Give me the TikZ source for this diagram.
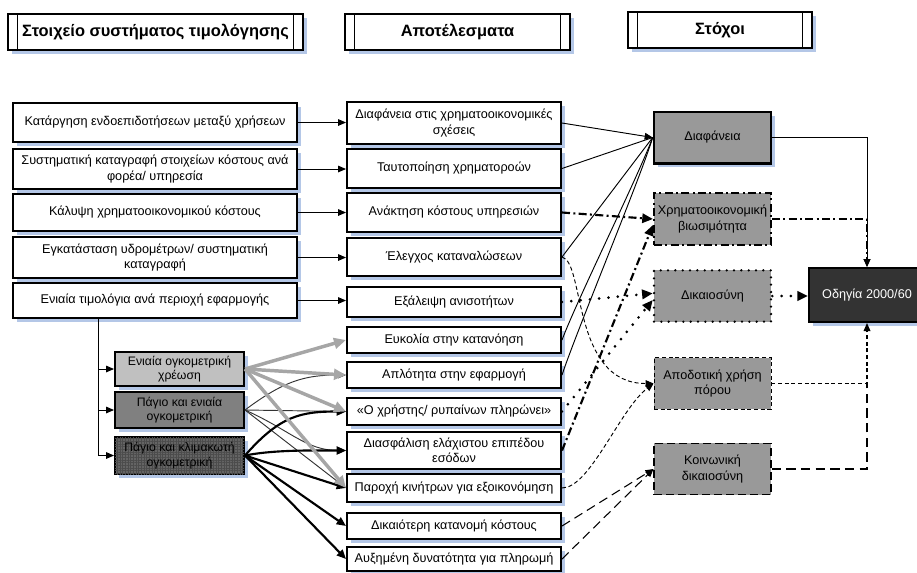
\documentclass[tikz,border=0pt]{standalone}
\usepackage{fontspec}
\setmainfont{Liberation Sans}
\usetikzlibrary{arrows.meta,shadows,patterns.meta}
\definecolor{shblue}{HTML}{B4C7E7}
\definecolor{rgray}{HTML}{999999}
\definecolor{sone}{HTML}{C0C0C0}
\definecolor{stwo}{HTML}{808080}
\definecolor{sthree}{HTML}{646464}
\definecolor{goalc}{HTML}{333333}
\definecolor{arrgray}{HTML}{A6A6A6}
\definecolor{thinc}{HTML}{333333}
\begin{document}
\begin{tikzpicture}[x=0.75pt,y=-0.75pt,
  shd/.style={drop shadow={shadow xshift=3pt,shadow yshift=-3pt,fill=shblue,opacity=1}},
  txt/.style={font=\fontsize{9.5}{11.5}\selectfont, align=center, inner sep=0pt},
  wbox/.style={txt, draw, line width=1.5pt, fill=white, shd},
  lbox/.style={wbox, minimum width=213pt},
  mbox/.style={wbox, minimum width=160.5pt},
  sbox/.style={wbox, minimum width=96.75pt, font=\fontsize{9.2}{11}\selectfont},
  rbox/.style={txt, draw, fill=rgray, minimum width=87.75pt, minimum height=38.5pt},
  hdr/.style={draw, line width=1.5pt, fill=white, shd, inner sep=0pt,
    font=\bfseries\fontsize{12.3}{14}\selectfont, minimum height=27pt,
    path picture={
      \draw[line width=1.2pt] ([xshift=7pt]path picture bounding box.north west) -- ([xshift=7pt]path picture bounding box.south west);
      \draw[line width=1.2pt] ([xshift=-7pt]path picture bounding box.north east) -- ([xshift=-7pt]path picture bounding box.south east);}},
  arr/.style={-{Triangle[length=6pt,width=5pt]}},
  bigarr/.style={-{Triangle[length=8pt,width=7pt]}},
  plain/.style={line width=0.7pt, draw=black},
  thinln/.style={line width=0.7pt, draw=thinc, -{Triangle[length=6pt,width=5pt]}},
  thickln/.style={line width=1.6pt, draw=black, -{Triangle[length=7pt,width=6pt]}},
  grayln/.style={line width=2.6pt, draw=arrgray, -{Triangle[length=9pt,width=8pt]}},
  ddln/.style={line width=1.6pt, dash pattern=on 6pt off 2.5pt on 1.5pt off 2.5pt},
  dotln/.style={line width=2.2pt, dash pattern=on 0pt off 7pt, line cap=round},
  sdln/.style={line width=0.7pt, dash pattern=on 3pt off 2pt},
  ldln/.style={line width=0.8pt, dash pattern=on 7pt off 4pt}
]
\useasboundingbox (0,0) rectangle (917,572);

% headers
\node[hdr, minimum width=221.25pt] (H1) at (155.5,32) {Στοιχείο συστήματος τιμολόγησης};
\node[hdr, minimum width=168.75pt] (H2) at (457.5,32) {Αποτέλεσματα};
\node[hdr, minimum width=138pt] (H3) at (720,30) {Στόχοι};

% left column
\node[lbox, minimum height=29.25pt] (L1) at (155,122.5) {Κατάργηση ενδοεπιδοτήσεων μεταξύ χρήσεων};
\node[lbox, minimum height=30pt] (L2) at (155,169) {Συστηματική καταγραφή στοιχείων κόστους ανά\\φορέα/ υπηρεσία};
\node[lbox, minimum height=27.75pt] (L3) at (155,212.5) {Κάλυψη χρηματοοικονομικού κόστους};
\node[lbox, minimum height=30.75pt] (L4) at (155,257.5) {Εγκατάσταση υδρομέτρων/ συστηματική\\καταγραφή};
\node[lbox, minimum height=26.25pt] (L5) at (155,300.5) {Ενιαία τιμολόγια ανά περιοχή εφαρμογής};

% sub boxes
\node[sbox, fill=sone, minimum height=25.5pt] (S1) at (179.5,369) {Ενιαία ογκομετρική\\χρέωση};
\node[sbox, fill=stwo, minimum height=27pt] (S2) at (179.5,410) {Πάγιο και ενιαία\\ογκομετρική};
\node[sbox, fill=sthree, minimum height=27.75pt,
  postaction={pattern={Hatch[angle=0,distance=2pt,line width=0.3pt]}, pattern color=black!70}] (S3) at (179.5,455.5) {};
\node[txt, font=\fontsize{9.2}{11}\selectfont] at (S3) {Πάγιο και κλιμακωτή\\ογκομετρική};

% middle column
\node[mbox, minimum height=31.5pt] (M1) at (454,123) {Διαφάνεια στις χρηματοοικονομικές\\σχέσεις};
\node[mbox, minimum height=29.25pt] (M2) at (454,168.5) {Ταυτοποίηση χρηματοροών};
\node[mbox, minimum height=29.25pt] (M3) at (454,212.5) {Ανάκτηση κόστους υπηρεσιών};
\node[mbox, minimum height=28.5pt] (M4) at (454,257) {Έλεγχος καταναλώσεων};
\node[mbox, minimum height=22.5pt] (M5) at (454,302) {Εξάλειψη ανισοτήτων};
\node[mbox, minimum height=19.5pt] (M6) at (454,340) {Ευκολία στην κατανόηση};
\node[mbox, minimum height=19.5pt] (M7) at (454,375) {Απλότητα στην εφαρμογή};
\node[mbox, minimum height=20.25pt] (M8) at (454,411.5) {«Ο χρήστης/ ρυπαίνων πληρώνει»};
\node[mbox, minimum height=27.75pt] (M9) at (454,450.5) {Διασφάλιση ελάχιστου επιπέδου\\εσόδων};
\node[mbox, minimum height=21pt] (M10) at (454,488) {Παροχή κινήτρων για εξοικονόμηση};
\node[mbox, minimum height=19.5pt] (M11) at (454,526) {Δικαιότερη κατανομή κόστους};
\node[mbox, minimum height=18pt] (M12) at (454,559) {Αυξημένη δυνατότητα για πληρωμή};

% right column
\node[rbox, line width=2pt, shd] (R1) at (712.5,137.5) {Διαφάνεια};
\node[rbox, ddln] (R2) at (712.5,219) {Χρηματοοικονομική\\βιωσιμότητα};
\node[rbox, line width=1.9pt, dash pattern=on 0pt off 5.5pt, line cap=round] (R3) at (712.5,296) {Δικαιοσύνη};
\node[rbox, sdln] (R4) at (712.5,383.5) {Αποδοτική χρήση\\πόρου};
\node[rbox, line width=0.8pt, dash pattern=on 6pt off 3pt] (R5) at (712.5,469) {Κοινωνική\\δικαιοσύνη};
\node[txt, draw, line width=1.5pt, fill=goalc, text=white, shd, minimum width=87pt, minimum height=40.5pt] (G) at (867,295) {Οδηγία 2000/60};

% left -> middle
\draw[plain, arr] (L1.east) -- (L1.east -| M1.west);
\draw[plain, arr] (L2.east) -- (L2.east -| M2.west);
\draw[plain, arr] (L3.east) -- (L3.east -| M3.west);
\draw[plain, arr] (L4.east) -- (L4.east -| M4.west);
\draw[plain, arr] (L5.east) -- (L5.east -| M5.west);

% branch
\coordinate (b0) at (98,318.5);
\draw[plain, arr] (b0) |- (S3.west);
\draw[plain, arr] (b0 |- S1.west) -- (S1.west);
\draw[plain, arr] (b0 |- S2.west) -- (S2.west);

% sub boxes -> middle
\draw[thinln] (S2.east) .. controls +(40,-30) and +(-40,0) .. (M7.west);
\draw[thinln] (S2.east) -- (M8.west);
\draw[thinln] (S2.east) .. controls +(45,20) and +(-40,0) .. (M9.west);
\draw[thinln] (S2.east) -- (M10.west);
\draw[thickln] (S3.east) .. controls +(35,-40) and +(-45,0) .. (M8.west);
\draw[thickln] (S3.east) .. controls +(30,-6) and +(-30,0) .. (M9.west);
\draw[thickln] (S3.east) -- (M10.west);
\draw[thickln] (S3.east) -- (M11.west);
\draw[thickln] (S3.east) -- (M12.west);
\draw[grayln] (S1.east) -- (M6.west);
\draw[grayln] (S1.east) -- (M7.west);
\draw[grayln] (S1.east) -- (M8.west);
\draw[grayln] (S1.east) -- (M10.west);

% middle -> right
\draw[plain, arr] (M1.east) -- (R1.west);
\draw[plain] (M2.east) -- (R1.west);
\draw[plain] (M4.east) -- (R1.west);
\draw[plain] (M6.east) .. controls +(15,-40) and +(-15,40) .. (R1.west);
\draw[plain] (M7.east) .. controls +(15,-45) and +(-12,40) .. (R1.west);
\draw[ddln, bigarr] (M3.east) -- (R2.west);
\draw[ddln, bigarr] (M9.east) -- ([yshift=-4.5pt]R2.west);
\draw[dotln, bigarr] (M5.east) -- ([yshift=2pt]R3.west);
\draw[dotln, bigarr] (M8.east) -- ([yshift=-3pt]R3.west);
\draw[sdln, arr] (M4.east) .. controls +(23,5) and +(-82,0) .. (R4.west);
\draw[sdln, arr] (M10.east) .. controls +(28,0) and +(-34,26) .. (R4.west);
\draw[ldln, arr] (M11.east) -- (R5.west);
\draw[ldln, arr] (M12.east) -- (R5.west);

% right -> goal
\draw[plain, arr] (R1.east) -| (G.north);
\draw[ddln, arr] (R2.east) -| (G.north);
\draw[dotln, bigarr] (R3.east) -- (R3.east -| G.west);
\draw[sdln, line width=0.9pt, arr] (R4.east) -| (G.south);
\draw[ldln, line width=0.9pt] (R5.east) -| (G.south |- R4.east);
\end{tikzpicture}
\end{document}
